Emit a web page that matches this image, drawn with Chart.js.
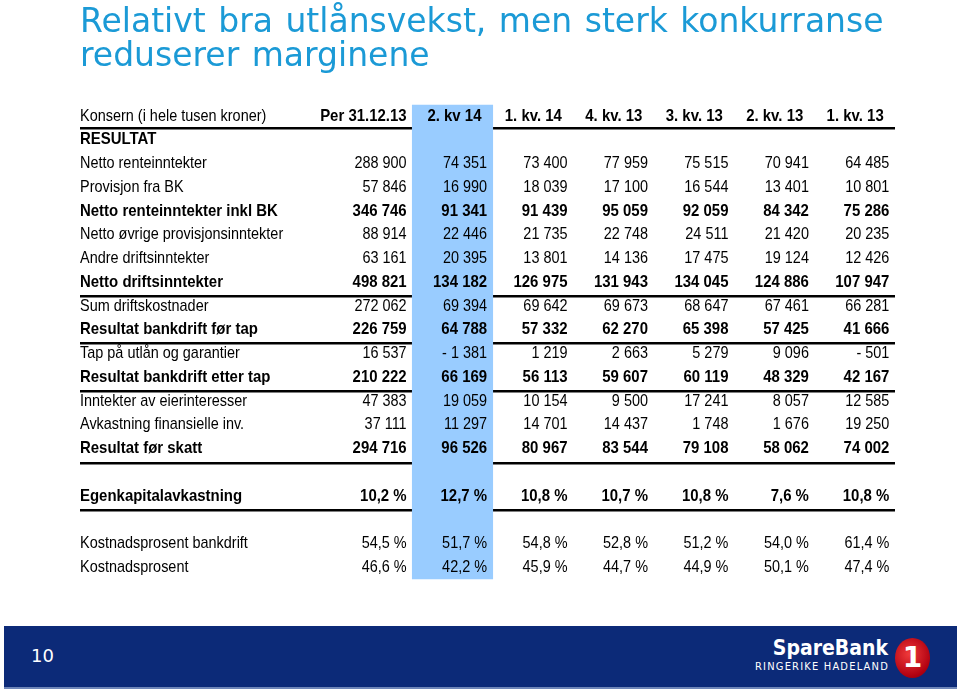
<!DOCTYPE html>
<html>
<head>
<meta charset="utf-8">
<script src="https://cdn.jsdelivr.net/npm/chart.js@4.4.1/dist/chart.umd.min.js"></script>
<style>
  html, body { margin: 0; padding: 0; background: #fff; }
  body { width: 960px; height: 691px; position: relative; overflow: hidden; }
  #title {
    position: absolute; left: 80px; top: 4px;
    color: #1b9ad6; font-family: "DejaVu Sans", sans-serif;
    font-size: 33px; line-height: 34px; word-spacing: 2px; white-space: nowrap;
  }
  #wrap { position: absolute; left: 0; top: 0; width: 960px; height: 691px; }
  #footer {
    position: absolute; left: 4px; top: 626px; width: 953px; height: 61px;
    background: #0c2a78; border-bottom: 2px solid #6f86b8;
    font-family: "DejaVu Sans", sans-serif; color: #fff;
  }
  #page { position: absolute; left: 27px; top: 19px; font-size: 18px; }
  #brand { position: absolute; right: 69px; top: 10px; text-align: right; }
  #brand .name { font-family: "DejaVu Sans Condensed", "DejaVu Sans", sans-serif; font-weight: bold; font-size: 21px; line-height: 24px; }
  #brand .sub { font-family: "DejaVu Sans Condensed", "DejaVu Sans", sans-serif; font-size: 11px; letter-spacing: 1.2px; line-height: 14px; margin-right: -1px; }
  #logo {
    position: absolute; right: 27px; top: 12px; width: 35px; height: 40px; border-radius: 50%;
    background: radial-gradient(circle at 40% 40%, #f03a3a, #b00010 70%, #7a0010);
    color: #fff; font-family: "DejaVu Sans", sans-serif; font-weight: bold; font-size: 28px;
    text-align: center; line-height: 40px;
  }
</style>
</head>
<body>
<div id="wrap"><canvas id="table"></canvas></div>
<div id="title">Relativt bra utlånsvekst, men sterk konkurranse<br>reduserer marginene</div>
<div id="footer">
  <div id="page">10</div>
  <div id="brand"><div class="name">SpareBank</div><div class="sub">RINGERIKE HADELAND</div></div>
  <div id="logo">1</div>
</div>
<script>
// Column headings
const headerLabel = 'Konsern (i hele tusen kroner)';
const columns = ['Per 31.12.13', '2. kv 14', '1. kv. 14', '4. kv. 13', '3. kv. 13', '2. kv. 13', '1. kv. 13'];

// Result rows (thousand NOK)
const nettoRenteinntekter = [288900, 74351, 73400, 77959, 75515, 70941, 64485];
const provisjonBK = [57846, 16990, 18039, 17100, 16544, 13401, 10801];
const nettoInklBK = [346746, 91341, 91439, 95059, 92059, 84342, 75286];
const ovrigeProvisjon = [88914, 22446, 21735, 22748, 24511, 21420, 20235];
const andreDrift = [63161, 20395, 13801, 14136, 17475, 19124, 12426];
const nettoDrift = [498821, 134182, 126975, 131943, 134045, 124886, 107947];
const sumKostnader = [272062, 69394, 69642, 69673, 68647, 67461, 66281];
const resForTap = [226759, 64788, 57332, 62270, 65398, 57425, 41666];
const tapUtlan = [16537, -1381, 1219, 2663, 5279, 9096, -501];
const resEtterTap = [210222, 66169, 56113, 59607, 60119, 48329, 42167];
const eierinteresser = [47383, 19059, 10154, 9500, 17241, 8057, 12585];
const finansielleInv = [37111, 11297, 14701, 14437, 1748, 1676, 19250];
const resForSkatt = [294716, 96526, 80967, 83544, 79108, 58062, 74002];

// Ratios (%)
const egenkapitalavkastning = [10.2, 12.7, 10.8, 10.7, 10.8, 7.6, 10.8];
const kostBankdrift = [54.5, 51.7, 54.8, 52.8, 51.2, 54.0, 61.4];
const kostProsent = [46.6, 42.2, 45.9, 44.7, 44.9, 50.1, 47.4];

const FONT = '"Liberation Sans", Arial, sans-serif';

function fmtNum(v) {
    const s = Math.abs(v).toString().replace(/\B(?=(\d{3})+(?!\d))/g, ' ');
    return v < 0 ? '- ' + s : s;
}
function fmtPct(v) {
    return v.toFixed(1).replace('.', ',') + ' %';
}

// One entry per table line, top to bottom (null = empty line)
const rows = [
    null,
    { label: 'RESULTAT', bold: true },
    { label: 'Netto renteinntekter', values: nettoRenteinntekter },
    { label: 'Provisjon fra BK', values: provisjonBK },
    { label: 'Netto renteinntekter inkl BK', values: nettoInklBK, bold: true },
    { label: 'Netto øvrige provisjonsinntekter', values: ovrigeProvisjon },
    { label: 'Andre driftsinntekter', values: andreDrift },
    { label: 'Netto driftsinntekter', values: nettoDrift, bold: true },
    { label: 'Sum driftskostnader', values: sumKostnader },
    { label: 'Resultat bankdrift før tap', values: resForTap, bold: true },
    { label: 'Tap på utlån og garantier', values: tapUtlan },
    { label: 'Resultat bankdrift etter tap', values: resEtterTap, bold: true },
    { label: 'Inntekter av eierinteresser', values: eierinteresser },
    { label: 'Avkastning finansielle inv.', values: finansielleInv },
    { label: 'Resultat før skatt', values: resForSkatt, bold: true },
    null,
    { label: 'Egenkapitalavkastning', values: egenkapitalavkastning, bold: true, pct: true },
    null,
    { label: 'Kostnadsprosent bankdrift', values: kostBankdrift, pct: true },
    { label: 'Kostnadsprosent', values: kostProsent, pct: true }
];

// Separator lines (between table lines) and highlighted column
const separators = [0.505, 7.58, 9.56, 11.58, 14.61, 16.59];
const highlightColumn = 1;
const highlightSpan = [-0.46, 19.49];

// narrow text: squeeze horizontally like the condensed face of the original
function narrowText(ctx, text, px, py, align, bold) {
    ctx.save();
    ctx.translate(px, py);
    ctx.scale(bold ? 0.88 : 0.85, 1);
    ctx.font = (bold ? 'bold ' : '') + '17px ' + FONT;
    ctx.textAlign = align;
    ctx.fillText(text, 0, 0);
    ctx.restore();
}

const tableText = {
    id: 'tableText',
    afterDatasetsDraw(chart) {
        const { ctx, scales: { x, y } } = chart;
        const left = x.getPixelForValue(x.min);
        ctx.save();
        ctx.fillStyle = '#000';
        ctx.textBaseline = 'middle';

        // header line
        let py = y.getPixelForValue(0);
        narrowText(ctx, headerLabel, left, py, 'left', false);
        columns.forEach((c, i) => {
            narrowText(ctx, c, x.getPixelForValue(i + (i === 0 ? 0.43 : 0.36)), py, 'right', true);
        });

        rows.forEach((row, i) => {
            if (!row) return;
            py = y.getPixelForValue(i);
            narrowText(ctx, row.label, left, py, 'left', row.bold);
            if (!row.values) return;
            row.values.forEach((v, c) => {
                narrowText(ctx, row.pct ? fmtPct(v) : fmtNum(v), x.getPixelForValue(c + 0.43), py, 'right', row.bold);
            });
        });
        ctx.restore();
    }
};

new Chart(document.getElementById('table'), {
    type: 'bar',
    data: {
        datasets: [{
            data: [{ x: highlightColumn, y: highlightSpan }],
            backgroundColor: '#99ccff',
            barPercentage: 1,
            categoryPercentage: 1
        }]
    },
    options: {
        responsive: true,
        maintainAspectRatio: false,
        animation: false,
        events: [],
        layout: { padding: { left: 80, right: 65, top: 100, bottom: 106 } },
        plugins: { legend: { display: false }, tooltip: { enabled: false } },
        scales: {
            x: {
                type: 'linear',
                display: false,
                offset: false,
                min: -3.63,
                max: 6.5,
                ticks: { stepSize: 1, includeBounds: false }
            },
            y: {
                type: 'linear',
                reverse: true,
                min: -0.674,
                max: 19.75,
                z: 1,
                border: { display: false },
                ticks: { display: false },
                grid: { color: '#000', lineWidth: 2.5, drawTicks: false },
                afterBuildTicks: (scale) => {
                    scale.ticks = separators.map(v => ({ value: v }));
                }
            }
        }
    },
    plugins: [tableText]
});
</script>
</body>
</html>
